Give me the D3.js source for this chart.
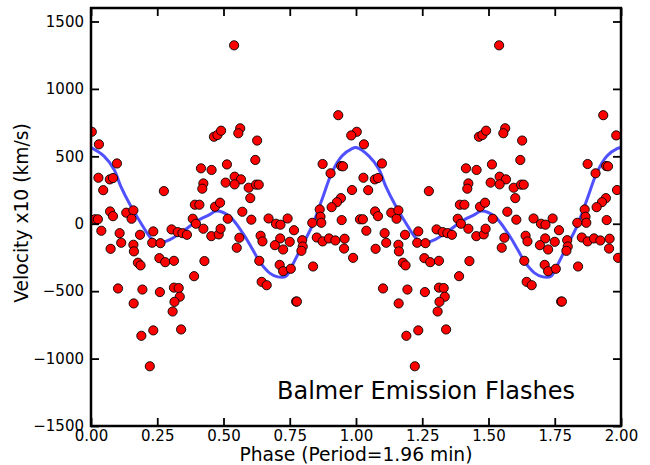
<!DOCTYPE html>
<html><head><meta charset="utf-8">
<script src="https://cdn.jsdelivr.net/npm/d3@7"></script>
<style>
body{margin:0;background:#fff;}
svg{display:block;font-family:"DejaVu Sans",sans-serif;}
</style></head>
<body><svg id="c" width="650" height="465"></svg>
<script>
// Observed phases (0-1) and velocities (x10 km/s); plotted twice (phase and phase+1)
const phase = [0.003,0.030,0.098,0.028,0.071,0.083,0.046,0.072,0.083,0.133,0.160,0.153,0.015,0.026,
0.039,0.108,0.114,0.074,0.185,0.160,0.162,0.177,0.187,0.102,0.194,0.161,0.235,0.190,0.222,0.235,0.231,
0.464,0.477,0.491,0.415,0.455,0.275,0.424,0.420,0.392,0.409,0.468,0.487,0.384,0.396,0.424,0.454,0.482,0.489,
0.262,0.304,0.327,0.345,0.362,0.258,0.280,0.313,0.428,0.389,0.260,0.313,0.331,0.335,0.315,0.308,0.340,
0.563,0.556,0.627,0.620,0.513,0.542,0.566,0.508,0.542,0.595,0.623,0.633,0.601,0.571,0.516,0.605,0.670,0.698,0.715,0.742,
0.560,0.550,0.640,0.647,0.714,0.694,0.725,0.635,0.712,0.725,0.644,0.663,
0.982,0.874,0.904,0.944,0.951,0.985,0.943,0.928,0.908,0.863,0.866,0.869,0.835,0.766,0.946,
0.852,0.874,0.898,0.922,0.957,0.955,0.989,0.797,0.799,0.794,0.750,0.754,0.838,0.774,0.777,0.933,0.540];
const velocity = [682,589,447,341,329,339,249,91,56,82,99,37,33,33,
-52,-70,-141,-186,-82,-156,-205,-289,-309,-480,-488,-591,-791,-831,-1057,-57,-141,
645,658,690,411,399,242,299,260,141,141,126,156,37,0,-37,-92,-79,-37,
-144,-42,-62,-70,-82,-255,-285,-275,-277,-389,-507,-474,-477,-541,-579,-651,-784,
708,671,617,473,440,349,329,305,292,267,290,290,190,89,37,30,39,0,-7,39,
-104,-178,-89,-131,-109,-159,-191,-275,-305,-352,-431,-456,
655,443,374,428,426,250,190,160,123,106,52,7,7,-48,27,
-102,-131,-109,-124,-111,-184,-253,-122,-169,-201,-134,-334,-317,-577,-577,805,1323];

// Fitted curve (one cycle)
const curvePhase = [0.0,0.049,0.087,0.112,0.150,0.1875,0.231,0.260,0.298,0.348,0.399,0.449,0.472,0.522,0.572,0.610,0.635,0.673,0.705,0.736,0.758,0.796,0.834,0.872,0.909,0.947,0.985];
const curveVel   = [565,502,403,279,131,7,-117,-141,-117,-55,19,69,94,56,-67,-191,-278,-364,-394,-389,-315,-166,-18,181,379,502,557];

const xTicks = [0,0.25,0.5,0.75,1.0,1.25,1.5,1.75,2.0];
const yTicks = [-1500,-1000,-500,0,500,1000,1500];

const svg = d3.select("#c");
const L=91,R=621,T=8,B=426;
const x = d3.scaleLinear().domain([0,2]).range([L,R]);
const y = d3.scaleLinear().domain([-1500,1600]).range([B,T]);

svg.append("clipPath").attr("id","clip").append("rect")
  .attr("x",L).attr("y",T).attr("width",R-L).attr("height",B-T);

const g = svg.append("g").attr("clip-path","url(#clip)");

// curve (two cycles)
const cdata = [];
for (let k=0;k<2;k++) curvePhase.forEach((p,i)=>cdata.push([p+k,curveVel[i]]));
cdata.push([2.0,curveVel[0]]);
g.append("path").datum(cdata)
  .attr("fill","none").attr("stroke","#5050ff").attr("stroke-width",3)
  .attr("d",d3.line().x(d=>x(d[0])).y(d=>y(d[1])).curve(d3.curveCatmullRom.alpha(0.5)));

// points (two cycles)
const pts = [];
phase.forEach((p,i)=>{pts.push([p,velocity[i]]); pts.push([p+1,velocity[i]]);});
g.selectAll("circle.pt").data(pts).enter().append("circle")
  .attr("cx",d=>x(d[0])).attr("cy",d=>y(d[1])).attr("r",4.6)
  .attr("fill","#ff0000").attr("stroke","#000").attr("stroke-width",0.9);

// axes
const fmtX = d3.format(".2f");
const ax = svg.append("g").attr("transform",`translate(0,${B})`)
  .call(d3.axisBottom(x).tickValues(xTicks).tickFormat(fmtX).tickSize(-8).tickPadding(4));
const axT = svg.append("g").attr("transform",`translate(0,${T})`)
  .call(d3.axisTop(x).tickValues(xTicks).tickFormat("").tickSize(-8));
const ay = svg.append("g").attr("transform",`translate(${L},0)`)
  .call(d3.axisLeft(y).tickValues(yTicks).tickFormat(d=>d<0?"\u2212"+Math.abs(d):d).tickSize(-8).tickPadding(7));
const ayR = svg.append("g").attr("transform",`translate(${R},0)`)
  .call(d3.axisRight(y).tickValues(yTicks).tickFormat("").tickSize(-8));
[ax,axT,ay,ayR].forEach(a=>{
  a.select(".domain").remove();
  a.selectAll(".tick line").attr("stroke","#000").attr("stroke-width",1.8);
  a.selectAll("text").attr("font-size","15px").attr("fill","#000").attr("font-family","DejaVu Sans");
});

// frame
svg.append("rect").attr("x",L).attr("y",T).attr("width",R-L).attr("height",B-T)
  .attr("fill","none").attr("stroke","#000").attr("stroke-width",2.5);

// labels
svg.append("text").attr("x",(L+R)/2).attr("y",461).attr("text-anchor","middle")
  .attr("font-size","18.7px").text("Phase (Period=1.96 min)");
svg.append("text").attr("transform",`translate(28,${(T+B)/2-4}) rotate(-90)`).attr("text-anchor","middle")
  .attr("font-size","18.7px").text("Velocity x10 (km/s)");
svg.append("text").attr("x",277).attr("y",399).attr("font-size","24px").text("Balmer Emission Flashes");
</script></body></html>
